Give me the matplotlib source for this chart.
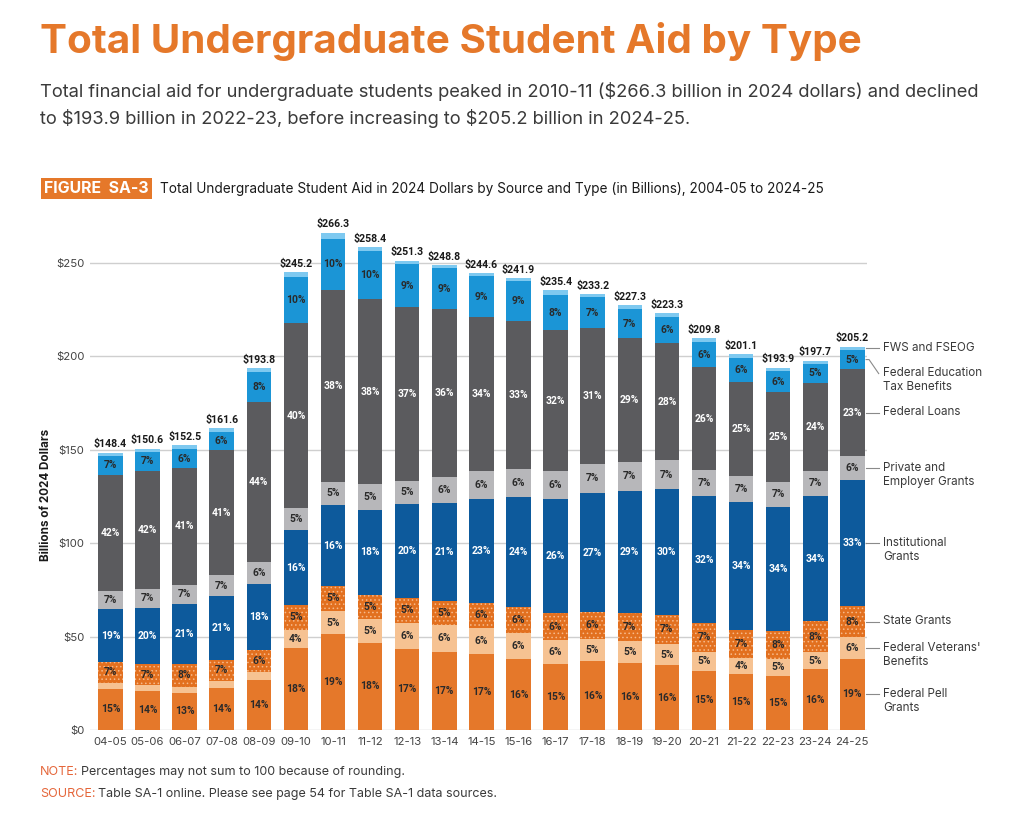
import matplotlib
matplotlib.use("Agg")
import matplotlib.pyplot as plt
import numpy as np

# ---------------- data (billions of 2024 dollars) ----------------
years = ["04-05", "05-06", "06-07", "07-08", "08-09", "09-10", "10-11", "11-12",
         "12-13", "13-14", "14-15", "15-16", "16-17", "17-18", "18-19", "19-20",
         "20-21", "21-22", "22-23", "23-24", "24-25"]
totals = [148.4, 150.6, 152.5, 161.6, 193.8, 245.2, 266.3, 258.4, 251.3, 248.8,
          244.6, 241.9, 235.4, 233.2, 227.3, 223.3, 209.8, 201.1, 193.9, 197.7, 205.2]
pell = [22.0, 20.9, 19.9, 22.4, 26.8, 43.8, 51.2, 46.8, 43.5, 42.0,
        40.5, 37.9, 35.2, 36.8, 35.7, 34.7, 31.8, 30.0, 29.1, 32.5, 38.2]
veterans = [3.4, 3.3, 3.3, 4.0, 4.3, 10.0, 12.6, 12.5, 14.0, 14.1,
            14.0, 14.1, 13.0, 11.9, 12.0, 11.4, 10.2, 8.8, 8.9, 9.3, 11.4]
state = [11.0, 11.0, 12.2, 11.3, 11.6, 12.9, 13.3, 13.0, 13.4, 12.9,
         13.7, 14.1, 14.3, 14.5, 15.1, 15.7, 15.3, 14.7, 15.0, 16.4, 16.8]
institutional = [28.2, 30.0, 32.0, 33.9, 35.5, 40.2, 43.3, 45.5, 50.0, 52.5,
                 55.5, 58.5, 61.2, 63.6, 65.2, 67.1, 67.8, 68.7, 66.6, 67.1, 67.4]
private = [9.9, 10.5, 10.4, 11.3, 11.6, 11.8, 12.6, 13.8, 12.5, 14.2,
           14.7, 15.2, 14.8, 15.7, 15.7, 15.4, 14.1, 13.9, 13.4, 13.5, 12.8]
loans = [62.0, 63.2, 62.6, 66.8, 86.0, 99.2, 102.5, 99.2, 93.0, 89.6,
         82.6, 79.0, 75.5, 72.5, 66.0, 62.7, 55.0, 50.3, 47.8, 47.0, 46.5]
tax = [10.2, 10.0, 9.8, 9.7, 16.0, 24.6, 27.5, 25.8, 23.0, 22.0,
       21.8, 21.4, 19.0, 16.8, 15.7, 14.3, 13.5, 12.6, 11.5, 10.2, 10.4]
fws = [1.7, 1.7, 2.3, 2.2, 2.0, 2.7, 3.3, 1.8, 1.9, 1.5,
       1.8, 1.7, 2.4, 1.4, 1.9, 2.0, 2.1, 2.1, 1.6, 1.7, 1.7]

series_names = ["Federal Pell\nGrants", "Federal Veterans'\nBenefits", "State Grants",
                "Institutional\nGrants", "Private and\nEmployer Grants", "Federal Loans",
                "Federal Education\nTax Benefits", "FWS and FSEOG"]
series = [pell, veterans, state, institutional, private, loans, tax, fws]
colors = ["#E5782A", "#F6C292", "#E2701F", "#0D5A9C", "#B7B7BA", "#5B5B5E", "#1B95D6", "#7EC9F0"]
label_colors = ["#2a2a2a", "#2a2a2a", "#2a2a2a", "white", "#2a2a2a", "white", "#2a2a2a", "#2a2a2a"]
hatches = [None, None, "....", None, None, None, None, None]

yticks = [0, 50, 100, 150, 200, 250]
ytick_labels = ["$0", "$50", "$100", "$150", "$200", "$250"]

ORANGE = "#E5782A"
DARK = "#3a3a3a"
FONT = ["Inter", "DejaVu Sans"]
plt.rcParams["font.family"] = FONT
plt.rcParams["hatch.linewidth"] = 0.6

W, H = 1024, 816
fig = plt.figure(figsize=(W / 100, H / 100), dpi=100)
fig.patch.set_facecolor("white")


def fy(py):
    return 1 - py / H


# axes: y=0 at 730 px, 1.868 px per billion; bar 0 centre at 110 px, 37.1 px per bar
ax = fig.add_axes([90 / W, 86 / H, 777.2 / W, 513.7 / H])
ax.set_xlim(-0.55, 20.4)
ax.set_ylim(0, 275)

x = np.arange(len(years))
bw = 0.66
bottom = np.zeros(len(years))
tot = np.array(totals)
for k, (vals, col) in enumerate(zip(series, colors)):
    v = np.array(vals)
    if hatches[k]:
        ax.bar(x, v, bw, bottom=bottom, color=col, edgecolor="#F7B98A", linewidth=0,
               hatch=hatches[k], zorder=3)
    else:
        ax.bar(x, v, bw, bottom=bottom, color=col, linewidth=0, zorder=3)
    if k < 7:
        for i in range(len(years)):
            if v[i] >= 7:
                ax.text(x[i], bottom[i] + v[i] / 2, f"{v[i] / tot[i] * 100:.0f}%",
                        ha="center", va="center", fontsize=7.4, fontweight="bold",
                        color=label_colors[k], family=["Roboto", "DejaVu Sans"], zorder=5)
    bottom = bottom + v

for i in range(len(years)):
    ax.text(x[i], bottom[i] + 1.8, f"${totals[i]:.1f}", ha="center", va="bottom",
            fontsize=7.6, fontweight="bold", color="#1a1a1a",
            family=["Roboto", "DejaVu Sans"], zorder=5)

# right-side labels tied to last bar's segments
last = len(years) - 1
cum = 0.0
xr = last + bw / 2
for k, vals in enumerate(series):
    yc = cum + vals[last] / 2
    cum += vals[last]
    ylab = yc - 7.5 if k == 6 else yc
    if k == 6:
        ax.plot([xr + 0.04, xr + 0.12, xr + 0.38], [yc, yc, ylab], color="#8a8a8a",
                lw=0.8, clip_on=False)
    else:
        ax.plot([xr + 0.04, xr + 0.38], [yc, yc], color="#8a8a8a", lw=0.8, clip_on=False)
    ax.annotate(series_names[k], xy=(xr + 0.5, ylab), xytext=(0, 4.6),
                textcoords="offset points", ha="left", va="top", fontsize=8.4,
                color=DARK, linespacing=1.25, annotation_clip=False)

ax.set_yticks(yticks)
ax.set_yticklabels(ytick_labels)
ax.set_xticks(x)
ax.set_xticklabels(years)
ax.tick_params(axis="both", length=0, labelsize=8.2, labelcolor="#444444")
ax.tick_params(axis="y", pad=4)
ax.tick_params(axis="x", pad=5)
ax.yaxis.grid(True, color="#cfcfcf", lw=1.0, zorder=0)
ax.set_axisbelow(True)
for s in ax.spines.values():
    s.set_visible(False)
ax.set_ylabel("Billions of 2024 Dollars", fontsize=8.4, fontweight="bold", color="#1a1a1a")
ax.yaxis.set_label_coords(-0.049, 0.457)

# ---------------- header texts ----------------
title = fig.text(40 / W, fy(53), "Total Undergraduate Student Aid by Type", color=ORANGE,
                 fontsize=30, fontweight="bold", va="baseline", ha="left")
sub1 = fig.text(40 / W, fy(97), "Total financial aid for undergraduate students peaked in 2010-11 "
                "(\\$266.3 billion in 2024 dollars) and declined", color=DARK, fontsize=13,
                va="baseline", ha="left")
sub2 = fig.text(40 / W, fy(124), "to \\$193.9 billion in 2022-23, before increasing to \\$205.2 "
                "billion in 2024-25.", color=DARK, fontsize=13, va="baseline", ha="left")
figlab = fig.text(44 / W, fy(193), "FIGURE  SA-3", color="white", fontsize=9.5,
                  fontweight="bold", va="baseline", ha="left",
                  bbox=dict(facecolor=ORANGE, edgecolor="none", boxstyle="square,pad=0.22"))
caption = fig.text(160 / W, fy(193), "Total Undergraduate Student Aid in 2024 Dollars by Source "
                   "and Type (in Billions), 2004-05 to 2024-25", color="#1a1a1a", fontsize=9.5,
                   va="baseline", ha="left")

NOTE_C = "#E5663A"
note1 = fig.text(40 / W, fy(775), "NOTE:", color=NOTE_C, fontsize=9, va="baseline")
src1 = fig.text(40 / W, fy(797), "SOURCE:", color=NOTE_C, fontsize=9, va="baseline")

fig.canvas.draw()
r = fig.canvas.get_renderer()


def fit(t, target):
    w = t.get_window_extent(r).width
    t.set_fontsize(t.get_fontsize() * target / w)


fit(title, 822)
fit(sub1, 943)
sub2.set_fontsize(sub1.get_fontsize())
fit(figlab, 105)
fit(caption, 662)
fig.canvas.draw()

x1 = note1.get_window_extent(r).x1
fig.text((x1 + 3) / W, fy(775), "Percentages may not sum to 100 because of rounding.",
         color=DARK, fontsize=9, va="baseline")
x2 = src1.get_window_extent(r).x1
fig.text((x2 + 3) / W, fy(797), "Table SA-1 online. Please see page 54 for Table SA-1 data sources.",
         color=DARK, fontsize=9, va="baseline")

fig.savefig("out.png", dpi=100, facecolor="white")
